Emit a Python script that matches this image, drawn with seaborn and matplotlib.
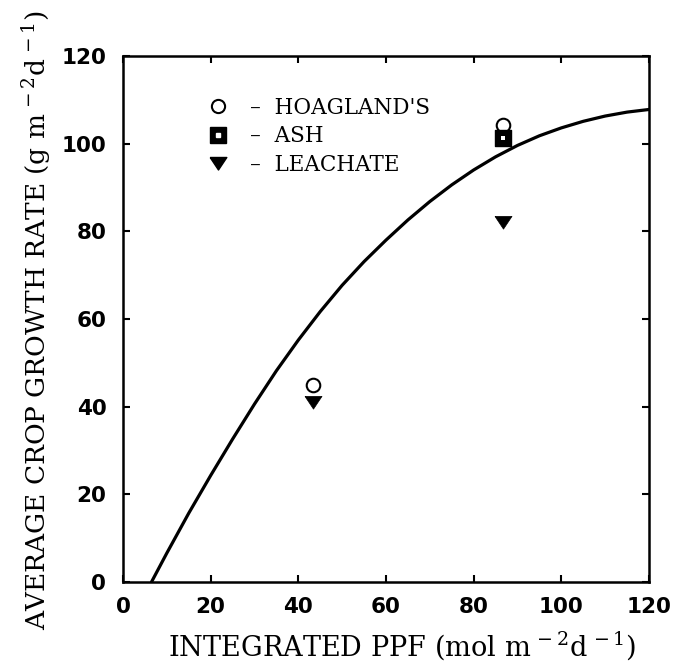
import numpy as np
import pandas as pd
import matplotlib
matplotlib.use("Agg")
import matplotlib.pyplot as plt
import seaborn as sns
from matplotlib.lines import Line2D
from matplotlib.legend_handler import HandlerTuple

# ---- data ----
curve_ppf = [6.5, 10, 15, 20, 25, 30, 35, 40, 45, 50, 55, 60, 65, 70,
             75, 80, 85, 90, 95, 100, 105, 110, 115, 120]
curve_cgr = [0, 6.6, 15.7, 24.3, 32.6, 40.6, 48.2, 55.2, 61.7, 67.7, 73.1,
             78.0, 82.6, 86.8, 90.6, 94.0, 97.0, 99.6, 101.8, 103.6, 105.1,
             106.3, 107.2, 107.8]

hoag_ppf = [43.4, 86.6]
hoag_cgr = [44.9, 104.2]
ash_ppf = [86.6]
ash_cgr = [101.2]
leach_ppf = [43.4, 86.6]
leach_cgr = [41.0, 82.1]

x_ticks = [0, 20, 40, 60, 80, 100, 120]
y_ticks = [0, 20, 40, 60, 80, 100, 120]
legend_labels = ["\u2013  HOAGLAND'S", "\u2013  ASH", "\u2013  LEACHATE"]
x_label = r"INTEGRATED PPF (mol m$^{\,-2}$d$^{\,-1}$)"
y_label = r"AVERAGE CROP GROWTH RATE (g m$^{\,-2}$d$^{\,-1}$)"

sns.set_theme(style="ticks")
plt.rcParams["font.family"] = ["DejaVu Serif", "DejaVu Sans"]
plt.rcParams["mathtext.fontset"] = "dejavuserif"
for key in ["text.color", "axes.labelcolor", "xtick.color", "ytick.color",
            "axes.edgecolor"]:
    plt.rcParams[key] = "black"

fig = plt.figure(figsize=(6.74, 6.67), dpi=100)
ax = fig.add_axes([123 / 674, 1 - 582 / 667, 526 / 674, 526 / 667])

curve_df = pd.DataFrame({"ppf": curve_ppf, "cgr": curve_cgr})
sns.lineplot(data=curve_df, x="ppf", y="cgr", ax=ax, color="black",
             linewidth=2.3, sort=False, estimator=None)

tri = [(-1, 0.72), (1, 0.72), (0, -0.78), (-1, 0.72)]

sns.scatterplot(x=hoag_ppf, y=hoag_cgr, ax=ax, marker="o", s=95,
                facecolor="white", edgecolor="black", linewidth=1.5, zorder=4)
sns.scatterplot(x=ash_ppf, y=ash_cgr, ax=ax, marker="s", s=125,
                color="black", edgecolor="black", linewidth=1, zorder=5)
sns.scatterplot(x=ash_ppf, y=ash_cgr, ax=ax, marker="s", s=9,
                color="white", edgecolor="white", linewidth=0, zorder=6)
sns.scatterplot(x=leach_ppf, y=leach_cgr, ax=ax, marker=tri, s=150,
                color="black", edgecolor="black", linewidth=0.5, zorder=4)

ax.set_xlim(0, 120)
ax.set_ylim(0, 120)
tick_font = dict(family="DejaVu Sans", fontweight="bold", fontsize=15.5,
                 color="black")
ax.set_xticks(x_ticks, labels=[str(t) for t in x_ticks], **tick_font)
ax.set_yticks(y_ticks, labels=[str(t) for t in y_ticks], **tick_font)
ax.tick_params(axis="both", direction="in", length=5, width=1.5,
               top=True, right=True, color="black")
ax.tick_params(axis="x", pad=10.5)
ax.tick_params(axis="y", pad=12)
for sp in ax.spines.values():
    sp.set_visible(True)
    sp.set_linewidth(1.8)
    sp.set_color("black")

ax.set_xlabel(x_label, fontsize=19.5, color="black")
ax.set_ylabel(y_label, fontsize=19, color="black")
ax.xaxis.set_label_coords(0.530, -0.089)
ax.yaxis.set_label_coords(-0.134, 0.497)

h_circ = Line2D([], [], ls="none", marker="o", ms=9.5, mfc="white",
                mec="black", mew=1.5)
h_sq = (Line2D([], [], ls="none", marker="s", ms=11, mfc="black", mec="black"),
        Line2D([], [], ls="none", marker="s", ms=3, mfc="white", mec="white"))
h_tri = Line2D([], [], ls="none", marker=tri, ms=12, mfc="black", mec="black")
ax.legend([h_circ, h_sq, h_tri], legend_labels,
          handler_map={tuple: HandlerTuple(ndivide=1, pad=0)},
          loc="upper left", bbox_to_anchor=(0.16, 0.922), frameon=False,
          borderpad=0, borderaxespad=0, handlelength=1.0, handletextpad=1.0,
          labelspacing=0.3, labelcolor="black",
          prop=dict(family="DejaVu Serif", size=15.5))

fig.savefig("out.png", dpi=100)
